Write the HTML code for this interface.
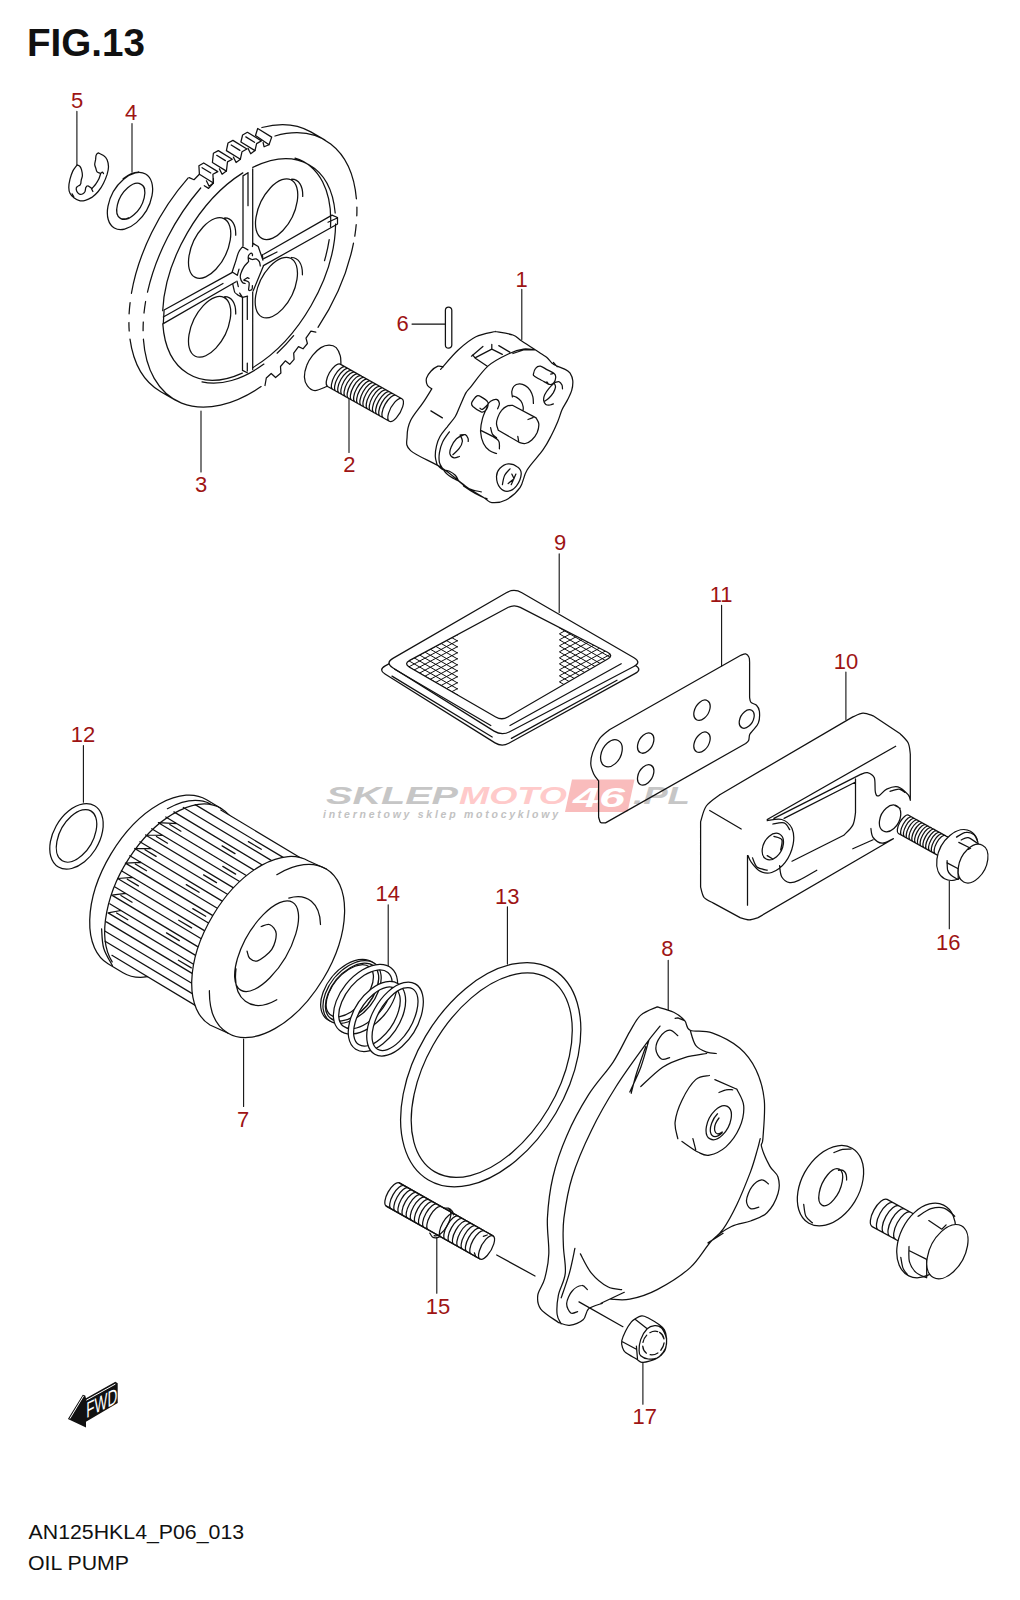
<!DOCTYPE html>
<html><head><meta charset="utf-8"><title>FIG.13 OIL PUMP</title>
<style>
html,body{margin:0;padding:0;background:#fff}
body{width:1020px;height:1600px;overflow:hidden;font-family:"Liberation Sans",sans-serif}
svg{display:block}
.ln path,.ln ellipse,.ln line{fill:none;stroke:#111;stroke-width:1.25;stroke-linecap:round;stroke-linejoin:round}
.ln .w{fill:#fff}
.lab text{font-family:"Liberation Sans",sans-serif;font-size:22px;fill:#9e1414;text-anchor:middle}
</style></head><body>
<svg width="1020" height="1600" viewBox="0 0 1020 1600">
<rect width="1020" height="1600" fill="#fff"/>
<g class="wm" font-family="Liberation Sans, sans-serif" font-weight="bold" font-style="italic">
<text x="326" y="804.3" font-size="23.5" fill="#c6c6c6" textLength="132" lengthAdjust="spacingAndGlyphs">SKLEP</text>
<text x="459" y="804.3" font-size="23.5" fill="#ffcaca" textLength="108" lengthAdjust="spacingAndGlyphs">MOTO</text>
<path d="M572 779.5H634.5L627.5 812H565Z" fill="#f9bcbc"/>
<text x="573" y="806.5" font-size="27" fill="#fff" textLength="52" lengthAdjust="spacingAndGlyphs">46</text>
<text x="633" y="804.3" font-size="23.5" fill="#c6c6c6" textLength="57" lengthAdjust="spacingAndGlyphs">.PL</text>
<text x="323" y="817.8" font-size="10.5" fill="#c2c2c2" textLength="235" lengthAdjust="spacing">internetowy sklep motocyklowy</text>
</g>
<g class="ln">
<path d="M76.9 111.4V165.3M132 123.5V172.2M521.8 289.4V339.4M349 398.5V452.5M201 411V472M559.2 553.9V612.5M721.6 605.3V666M845.9 672V719.6M83.4 745.6V802.2M388.2 904.7V968.5M507.4 906.8V964.1M668.2 960.2V1009.6M949.3 881V928.8M243.6 1039V1106.4M436.8 1237.5V1293.3M642.9 1362.3V1404.3M412 324.1H445.3" style="stroke-width:1.1"/>
<path d="M275 136A150 88 -60 0 1 356.4 198.8M356.9 207.1A150 88 -60 0 1 356.8 215.8M356.2 224.7A150 88 -60 0 1 354.8 236.2M353.5 243.2A150 88 -60 0 1 318 327.3M261.1 386.6A150 88 -60 0 1 143.4 339.2M143.1 330.7A150 88 -60 0 1 143.3 322M144 313A150 88 -60 0 1 145.6 301.5M147.5 292.1A150 88 -60 0 1 200.7 188M160.8 391.7A150 88 -60 0 1 130 339.1M129.2 331A150 88 -60 0 1 128.9 322.5M129.1 313.8A150 88 -60 0 1 130.1 302.6M131.4 293.3A150 88 -60 0 1 188.2 177.9M261.9 127.5A150 88 -60 0 1 310.8 131.9L325 140.1M160.8 391.7L175 399.9"/>
<path d="M315.8 332.1L310.9 331.2L306 338.2L307.4 343.5L303 348.8L298.5 346.6L293.7 353.2L294.1 359.4L289.7 364.3L285.3 360.8L280.5 366.5L280.9 373.1L275.6 377.5L271.2 373.5L266.3 378L265 385.5"/>
<path d="M252.8 167.4A120.8 71.8 -60.2 0 1 335.2 213M335.6 224A120.8 71.8 -60.2 0 1 252.6 367.7M242.3 373.1A120.8 71.8 -60.2 0 1 162.8 323.9M162.7 310.7A120.8 71.8 -60.2 0 1 242.8 172.9M295 158.1A120.8 71.8 -60.2 0 1 330.5 226.9M329.2 239.7A120.8 71.8 -60.2 0 1 324.5 260.7M293.6 335.7A120.8 71.8 -60.2 0 1 277.1 353.2M263.9 364.1A120.8 71.8 -60.2 0 1 202 381.9"/>
<path d="M243 175.9V245.7M248 172.7V205.7M252.7 168.8V244M243 175.9L248 172.7M242.5 297.5V370.4M247.3 296.7V319.4M247.3 363V371M252.7 292V369.6M242.5 370.4L247.3 372.8M263.7 254.3L332 215.1L337.5 217.5V224M263.4 265.6L337.5 224M263.7 258.6L277 252M328 222.2L336.7 218.2M164.1 310L232.4 272.4M163.3 317L223 283.5M163.3 323.6L236 281.8M164.1 310L163.3 323.6"/>
<path d="M290.9 179.8A32.7 17.3 -64 0 1 282.9 230.5A32.7 17.3 -64 0 1 256 217.3A32.7 17.3 -64 0 1 290.9 179.8ZM291.7 179.1A32.7 17.3 -64 0 1 302.7 196.4M290.6 258.2A32.7 17.3 -64 0 1 282.6 308.9A32.7 17.3 -64 0 1 255.7 295.7A32.7 17.3 -64 0 1 290.6 258.2ZM291.4 257.5A32.7 17.3 -64 0 1 302.4 274.8M223.9 218.6A32.7 17.3 -64 0 1 215.9 269.3A32.7 17.3 -64 0 1 189 256.1A32.7 17.3 -64 0 1 223.9 218.6ZM224.7 217.9A32.7 17.3 -64 0 1 235.7 235.2M223.9 297.4A32.7 17.3 -64 0 1 215.9 348.1A32.7 17.3 -64 0 1 189 334.9A32.7 17.3 -64 0 1 223.9 297.4ZM224.7 296.7A32.7 17.3 -64 0 1 235.7 314"/>
<path d="M242.5 246.8L247.9 249.9M242.5 246.8C241.8 247.7 239.8 249.5 238.7 252C237.5 254.4 236.7 258.3 235.6 261.6C234.5 264.9 232.7 270.2 232.2 271.9M232.2 271.9L237.3 275.3L239 269.1M237 281.1L238.3 286.6M232.8 284.2C233 285 233.5 287.7 233.9 289C234.2 290.4 234.2 291.4 234.9 292.5C235.6 293.5 237.1 294.4 238.3 295.2C239.6 296 241.8 296.9 242.5 297.3M239.7 293.1L242.5 297.3L247.6 296.2M252.4 246.5L253.1 243.4L258.2 246.5L263 260.2L262.4 254.7M263.4 266L253.1 291.1M248.6 261.6C247.8 262.5 245.1 265 243.8 267.1C242.5 269.1 241.3 272.1 240.7 273.9C240.2 275.8 240.1 276.6 240.4 278C240.7 279.5 241.7 281.6 242.5 282.5C243.3 283.4 244.7 283.4 245.2 283.5M248.6 261.6C248.6 260.7 247.9 257.8 248.3 256.4C248.6 255.1 250 253.7 250.7 253.3C251.4 252.9 252.1 253.6 252.4 254C252.7 254.4 252.4 255.5 252.4 255.7M249 258.1C249.5 258.4 251.2 259.4 252.4 259.5C253.6 259.6 255 258.5 256.2 258.8C257.3 259.2 258.6 260.4 259.3 261.6C260 262.8 260.1 265.3 260.3 266M243.8 280.1L247.3 277.7L249 278.4M244.5 280.4C245.3 280.8 248.3 281 249 282.5C249.7 284 248.5 288.4 248.6 289.7C248.8 291 249.4 290.5 250 290.4C250.6 290.3 251.7 289.8 252.1 289C252.5 288.2 252.3 286.2 252.4 285.6"/>
<path d="M199.4 174.3L198.9 165.7L203.7 163L217.8 171.6L212.9 174.3L213.4 183Z" class="w"/>
<path d="M202.1 167.7L210.8 173"/>
<path d="M206.4 180.8L209.1 186.2L213.4 183"/>
<path d="M212.4 162.5L213.4 153.3L218.3 150.6L232.3 159.2L227.5 161.9L226.4 171.1Z" class="w"/>
<path d="M216.7 155.3L225.4 160.6"/>
<path d="M219.4 168.9L222.1 174.3L226.4 171.1"/>
<path d="M226.4 150.6L228 143L232.9 140.4L246.9 149L242 151.7L240.4 159.2Z" class="w"/>
<path d="M231.2 145L239.9 150.4"/>
<path d="M233.4 157.1L236.1 162.5L240.4 159.2"/>
<path d="M240.9 142L242.6 135L247.4 132.3L261.4 140.9L256.6 143.6L255 150.6Z" class="w"/>
<path d="M245.8 136.9L254.5 142.3"/>
<path d="M248 148.4L250.7 153.8L255 150.6"/>
<path d="M257.7 128.5L271.7 137.1L269 144.7L255.5 135.5Z" class="w"/>
<path d="M263.1 142.5L264.1 146.8L269 144.7"/>
<path d="M189.2 177.6L194 179.7L199.4 174.3M204.3 185.7L208.6 188.4L213.4 183L213.4 178.6"/>
<path d="M145.6 174A31.1 18.9 -59.9 0 1 136.4 222.6A31.1 18.9 -59.9 0 1 108 206.1A31.1 18.9 -59.9 0 1 145.6 174ZM141.1 184.3A19.9 11.1 -58.8 0 1 133.9 214.8A19.9 11.1 -58.8 0 1 117.4 204.8A19.9 11.1 -58.8 0 1 141.1 184.3ZM123.1 178.8A31.1 18.9 -59.9 0 1 138.6 172M139.8 183.8A19.9 11.1 -58.8 0 1 144.7 188.6M128.6 217.7A19.9 11.1 -58.8 0 1 121.9 218.8"/>
<path d="M77.1 165C76.4 166 74.1 168.5 72.9 170.9C71.8 173.2 70.7 176.4 70 179.1C69.3 181.9 68.8 185 68.8 187.4C68.8 189.7 69.2 191.6 70 193.2C70.8 194.9 72 196.1 73.5 197.4C75.1 198.6 77.5 200.1 79.4 200.6C81.4 201.1 83.2 200.8 85.3 200.3C87.4 199.8 89.6 198.8 91.8 197.4C93.9 195.9 96.3 193.8 98.2 191.5C100.2 189.1 102.1 186.1 103.5 183.2C105 180.4 106.2 177.2 107.1 174.4C107.9 171.7 108.5 169.2 108.5 166.8C108.5 164.3 107.9 161.6 107.1 159.7C106.2 157.8 105 156.7 103.5 155.6C102.1 154.5 99.1 153.4 98.2 152.9M98.2 152.9C97.9 153.3 96.6 153.9 96.2 155C95.7 156.1 95.8 158.1 95.6 159.7C95.3 161.3 94.7 162.9 94.7 164.4C94.8 165.9 95.5 167.3 95.9 168.5C96.3 169.8 96.3 170.9 97.1 171.8C97.8 172.6 100 173.2 100.6 173.5M100.6 173.5C100.9 173.3 101.9 172.1 102.4 172.1C102.8 172.1 103.3 173.3 103.5 173.5M100.6 173.8C100.3 174.7 99.6 177.5 98.8 179.1C98 180.8 97 182.3 95.9 183.8C94.8 185.4 92.7 187.7 92.1 188.5M91.5 188.8L92.9 191.5M92.1 188.5C91.7 188.3 90.7 187.5 90 187.1C89.3 186.6 88.3 185.8 87.6 185.9C87 185.9 86.3 186.4 85.9 187.4C85.4 188.3 85.5 190.4 85 191.5C84.5 192.5 83.8 193.3 82.9 193.8C82.1 194.3 80.9 194.6 80 194.4C79.1 194.2 78.3 193.5 77.6 192.6C77 191.8 76.3 190.1 76.2 189.1C76.1 188.1 76.4 187.5 77.1 186.8C77.7 186.1 79.4 185.6 80 185C80.6 184.4 80.7 183.5 80.9 183.2M80.9 183.2C80.9 182.7 80.9 181.6 81.2 180.3C81.4 179 82.3 177.4 82.4 175.6C82.4 173.8 81.9 171.2 81.5 169.7C81.1 168.2 80.7 167.3 80 166.5C79.3 165.7 77.5 165.2 77.1 165M72.1 193.8L73.8 196.8"/>
<path d="M340.9 363.5C340.8 362.3 341.1 358.5 340.3 355.9C339.5 353.2 338 349.5 336.2 347.6C334.3 345.8 331.7 345.1 329.1 345.1C326.6 345.1 323.6 345.9 320.9 347.6C318.1 349.4 315 352.4 312.6 355.3C310.3 358.2 308.1 361.7 306.8 365.3C305.4 368.9 304.3 373.6 304.4 377.1C304.5 380.5 305.6 383.6 307.4 385.9C309.1 388.1 311.8 390.5 315 390.6C318.2 390.7 324.8 387.2 326.8 386.5"/>
<path d="M340.2 364.1L401.9 398.8M327.6 386.5L389.3 421.2M327.6 386.5A12.9 5.2 119.4 0 1 329.4 372.8A12.9 5.2 119.4 0 1 340.2 364.1M332.9 389.5A12.9 5.2 119.4 0 1 334.6 375.7A12.9 5.2 119.4 0 1 345.5 367M336 391.3A12.9 5.2 119.4 0 1 337.8 377.5A12.9 5.2 119.4 0 1 348.7 368.8M339.2 393.1A12.9 5.2 119.4 0 1 341 379.3A12.9 5.2 119.4 0 1 351.8 370.6M342.3 394.8A12.9 5.2 119.4 0 1 344.1 381A12.9 5.2 119.4 0 1 355 372.4M345.5 396.6A12.9 5.2 119.4 0 1 347.3 382.8A12.9 5.2 119.4 0 1 358.1 374.1M348.6 398.4A12.9 5.2 119.4 0 1 350.4 384.6A12.9 5.2 119.4 0 1 361.3 375.9M351.8 400.2A12.9 5.2 119.4 0 1 353.6 386.4A12.9 5.2 119.4 0 1 364.4 377.7M355 401.9A12.9 5.2 119.4 0 1 356.8 388.2A12.9 5.2 119.4 0 1 367.6 379.5M358.1 403.7A12.9 5.2 119.4 0 1 359.9 389.9A12.9 5.2 119.4 0 1 370.8 381.2M361.3 405.5A12.9 5.2 119.4 0 1 363.1 391.7A12.9 5.2 119.4 0 1 373.9 383M364.4 407.3A12.9 5.2 119.4 0 1 366.2 393.5A12.9 5.2 119.4 0 1 377.1 384.8M367.6 409A12.9 5.2 119.4 0 1 369.4 395.3A12.9 5.2 119.4 0 1 380.2 386.6M370.7 410.8A12.9 5.2 119.4 0 1 372.5 397A12.9 5.2 119.4 0 1 383.4 388.3M373.9 412.6A12.9 5.2 119.4 0 1 375.7 398.8A12.9 5.2 119.4 0 1 386.6 390.1M377.1 414.4A12.9 5.2 119.4 0 1 378.9 400.6A12.9 5.2 119.4 0 1 389.7 391.9M380.2 416.2A12.9 5.2 119.4 0 1 382 402.4A12.9 5.2 119.4 0 1 392.9 393.7M383.4 417.9A12.9 5.2 119.4 0 1 385.2 404.1A12.9 5.2 119.4 0 1 396 395.4M389.3 421.2A12.9 5.2 119.4 0 1 394.8 402.2A12.9 5.2 119.4 0 1 402.7 406.6A12.9 5.2 119.4 0 1 389.3 421.2Z"/>
<path d="M445.4 310.2a3.2 3.2 0 0 1 6.4 0V345a3.2 3.2 0 0 1 -6.4 0Z"/>
<path d="M495.3 331.5C498.2 332.1 508.5 333.4 512.9 335C517.4 336.6 517.5 338.3 522.1 341.3C526.7 344.4 536.3 350.5 540.4 353.2C544.5 355.9 544.9 355.8 546.9 357.5C548.9 359.2 550.6 362 552.3 363.4C554 364.9 555 365.1 557.1 366.1C559.3 367.1 563.1 368.2 565.2 369.4C567.4 370.5 568.8 371.3 570.1 373.1C571.3 375 572.5 377.8 572.8 380.7C573 383.6 572.6 387.2 571.7 390.4C570.8 393.6 569 396.9 567.4 400.1C565.8 403.4 563.6 406.2 562 409.8C560.4 413.4 559.5 417.4 557.7 421.7C555.9 426 553.6 431 551.2 435.7C548.8 440.4 547.1 444 543.1 449.7C539.1 455.5 530.9 463.7 527.1 470C523.2 476.3 523.5 482.6 520 487.6C516.5 492.6 510.6 497.5 505.9 500C501.2 502.5 495.3 502.9 491.8 502.6C488.2 502.3 489.1 501 484.7 498.2C480.3 495.4 472.3 490.9 465.3 485.9C458.2 480.9 451.5 474.1 442.4 468.2C433.2 462.3 416.5 455.9 410.6 450.6C404.7 445.3 407.1 441.5 407.1 436.5C407.1 431.5 407.9 426.2 410.6 420.6C413.2 415 419.4 408.2 422.9 402.9C426.5 397.6 430.3 391.2 431.8 388.8M431.8 388.8C431 388.2 428.2 387.1 427.4 385.3C426.5 383.5 425.9 380.6 426.5 378.2C427.1 375.9 429 373.2 430.9 371.2C432.8 369.2 435.9 367 437.9 366.2C440 365.5 442.4 366.7 443.2 366.8M440.6 369.4C443.5 366.2 452.3 355.4 458.2 350C464.1 344.6 469.7 339.9 475.9 336.8C482.1 333.7 492.1 332.4 495.3 331.5M535.9 350C533.8 349.9 527.9 348.5 523.5 349.1C519.1 349.7 515.3 350.7 509.4 353.5C503.5 356.3 494.7 360.3 488.2 365.9C481.8 371.5 474.3 382.5 470.6 387.1C466.9 391.6 467.6 389.8 465.9 392.9C464.1 396.1 461.8 402 460 405.9C458.2 409.8 457.5 412.9 455.3 416.5C453.1 420 449.6 423.7 447.1 427.1C444.5 430.4 441.8 433.3 440 436.5C438.2 439.6 437.3 442.5 436.5 445.9C435.7 449.2 435.2 453.3 435.3 456.5C435.4 459.6 436.8 463.3 437.1 464.7M449.4 431.8C448.2 433.5 444 438.8 442.4 442.4C440.7 445.9 439.9 449.6 439.4 452.9C438.9 456.3 438.9 459.8 439.4 462.4C439.9 464.9 441.9 467.3 442.4 468.2M437.1 464.7C437.9 465.5 440.3 468.3 442.4 469.4C444.4 470.5 447.3 470.2 449.4 471.2C451.6 472.2 453.7 473.6 455.3 475.3C456.9 477 458.2 480.2 458.8 481.2M442.4 468.2C443.1 469.2 445.1 472.4 447.1 474.1C449 475.9 452.2 477.6 454.1 478.8C456.1 480 456.9 479.8 458.8 481.2C460.8 482.5 463.5 485.6 465.9 487.1C468.2 488.5 470.4 489.2 472.9 490C475.5 490.8 479.8 491.5 481.2 491.8M463.5 485.9C464.7 486.7 467.6 488.8 470.6 490.6C473.5 492.4 478.4 495.1 481.2 496.5C483.9 497.8 486.1 498.4 487.1 498.8M553.4 362.4L557.1 366.7M512.9 353.5L523.5 350L534.1 349.6M471.5 356.2L482.9 346.5M472.7 354.9L475 357.9L487.3 366.2M475 357.9L491.8 349.1L502.3 354.4M491.8 344.4L491.8 349.1M498.8 345.6L509.8 352.1M430.9 410.9L442.4 417.9M533.4 374.2C533.6 372.9 534.4 369.6 535.6 368.3C536.7 366.9 538.4 365.9 540.4 366.1C542.4 366.4 545.1 368.7 547.4 369.9C549.8 371.2 553 372.4 554.4 373.7C555.8 374.9 555.8 376 555.7 377.5C555.6 379 554.9 381.5 553.9 382.6C552.9 383.8 552 384.9 549.9 384.5C547.8 384.1 544.1 381.5 541.5 380.2C538.9 378.8 535.8 377.2 534.5 376.2C533.1 375.2 533.2 375.5 533.4 374.2ZM550.7 374.2L552.8 373.7M546.9 381.8L548 383.4M471.8 402.4C472.5 400.6 475.3 396.7 477.1 395.9C478.8 395.1 480.6 396.7 482.4 397.6C484.1 398.6 486.8 400.2 487.6 401.8C488.5 403.3 488.1 405.5 487.6 407.1C487.2 408.6 485.8 410.4 484.7 411.2C483.6 412 483.1 412.5 481.2 411.8C479.2 411 474.5 408 472.9 406.5C471.4 404.9 471.1 404.1 471.8 402.4ZM480 408.2C480.4 408.4 481.2 409.9 482.4 409.4C483.5 408.9 486.3 406 487.1 405.3M554.4 382.9C553.5 383.8 550.7 386.3 549 388.3C547.4 390.2 545.6 392.7 544.7 394.7C543.8 396.7 543.5 398.5 543.6 400.1C543.8 401.7 544.7 403.6 545.8 404.4C546.9 405.2 548.9 405.1 550.1 405C551.4 404.9 552.8 404.1 553.4 403.9M554.4 383.4C554.6 384 555.7 385.6 555.5 387.2C555.3 388.7 554.4 390.8 553.4 392.6C552.3 394.4 550.5 396.5 549 398C547.6 399.4 545.4 400.7 544.7 401.2M555.5 382.3C556.1 382.2 558.2 381.3 559.3 381.8C560.4 382.2 561.4 383.8 562 385C562.5 386.2 562.4 388.2 562.5 388.8M464.1 434.7C462.8 435.4 458.6 436.8 456.5 438.8C454.3 440.9 452.3 444.5 451.2 447.1C450.1 449.6 449.5 452.3 450 454.1C450.5 455.9 452.5 457.5 454.1 457.9C455.7 458.3 458.5 456.7 459.4 456.5M460.6 435.9C460.9 436.8 462.5 439.1 462.4 441.2C462.2 443.2 461 446 459.4 448.2C457.8 450.5 454 453.6 452.9 454.7M460 435.1C460.9 435 464 434.2 465.3 434.7C466.6 435.2 467.5 437.1 468 438.2C468.5 439.4 468.2 440.9 468.2 441.4M512.4 405.3C511.5 405.4 508.8 405.2 507 406.1C505.2 406.9 503.1 408.5 501.6 410.4C500 412.3 498.6 415.1 497.8 417.4C497 419.6 496.4 421.7 496.5 423.9C496.6 426 498 429.2 498.3 430.3M512.4 405.3L536.1 417.9M498.3 430.3L519.9 442.7M536.1 417.9C536.5 418.9 538.6 421.4 538.8 423.9C539 426.3 538.3 429.8 537.2 432.5C536 435.2 533.8 438.2 531.8 440C529.8 441.9 527.3 443 525.3 443.5C523.3 443.9 520.8 442.9 519.9 442.7M528 419.5L532.9 417.6M517.8 436.3L518.8 442.2M512.4 396.9C512.3 396 511.6 393.3 511.8 391.5C512.1 389.7 512.7 387.4 514 386.1C515.2 384.8 517.5 384 519.4 383.9C521.3 383.8 523.5 384.5 525.3 385.6C527.1 386.6 528.9 388.5 530.2 390.4C531.4 392.3 532.3 394.7 532.9 396.9C533.4 399 533.3 402.3 533.4 403.4M512.4 395.8C513.1 396.1 515.2 396.5 516.7 397.4C518.1 398.3 519.9 399.7 521 401.2C522.1 402.7 522.8 405.1 523.1 406.6C523.5 408.1 523.1 409.7 523.1 410.4M487.1 405.3C487.6 404.6 489 402.2 490.6 401.2C492.2 400.2 495 399 496.5 399.4C497.9 399.8 499.2 402 499.4 403.5C499.6 405.1 497.9 407.9 497.6 408.8M487.1 407.1C486.3 409 483.4 414.7 482.4 418.8C481.3 422.9 480.4 427.6 480.6 431.8C480.8 435.9 482.1 440.4 483.5 443.5C485 446.7 487.3 448.9 489.4 450.6C491.6 452.3 495.3 453 496.5 453.5M481.2 430.6C483.1 431.6 490 434.7 492.9 436.5C495.9 438.2 497.7 439.1 498.8 441.2C499.9 443.2 499.3 447.5 499.4 448.8M490.6 427.6C490.9 428.7 491.4 432.5 492.4 434.1C493.3 435.8 495.8 437.1 496.5 437.6M496.5 476.5C496.5 473.2 498 470.4 500 468.2C502 466.1 505.3 464 508.2 463.8C511.2 463.6 515.5 465.3 517.6 467.1C519.8 468.8 521.4 471 521.2 474.1C521 477.3 518.6 483 516.5 485.9C514.3 488.7 511 490.9 508.2 491.2C505.5 491.5 502 490.1 500 487.6C498 485.2 496.5 479.7 496.5 476.5ZM510 468.8C509.1 469.9 506 472.6 504.7 475.3C503.4 477.9 502.7 483.1 502.4 484.7M515.9 474.1L511.2 484.7M511.8 474.1L514.1 478.8L508.2 483.5"/>
<path d="M507.1 599Q514.1 595.1 521 599.1L635.4 665.5Q642.3 669.5 635.3 673.4L508.8 743.3Q501.8 747.2 495 742.9L385 674Q378.2 669.8 385.2 665.9Z" class="w"/>
<path d="M506.3 592.7Q514.1 588.2 521.9 592.8L634 657.8Q641.8 662.3 633.8 666.5L509.7 731.7Q501.8 735.9 494.1 731.1L392.7 667.7Q385.1 662.9 392.9 658.4Z" class="w"/>
<path d="M394.7 669.2L490.8 725.5M510 725.5L621.2 663.7M392 676.1L492.2 737M511.4 738.4L617 680.2"/>
<clipPath id="msh"><path d="M380 590H457.8V740H380ZM559.4 590H650V740H559.4Z"/></clipPath>
<clipPath id="msh2"><path d="M507.9 607.5Q514.1 604.2 520.3 607.4L607.5 652.3Q613.8 655.5 607.7 659L507.8 717Q501.8 720.5 495.7 717L409.5 667.2Q403.5 663.7 409.7 660.4Z"/></clipPath>
<g clip-path="url(#msh)"><g clip-path="url(#msh2)"><path d="M380 436.4L650 291M380 410.1L650 566.3M380 442.4L650 297M380 416.1L650 572.3M380 448.4L650 303M380 422.1L650 578.3M380 454.4L650 309M380 428.1L650 584.3M380 460.4L650 315M380 434.1L650 590.3M380 466.4L650 321M380 440.1L650 596.3M380 472.4L650 327M380 446.1L650 602.3M380 478.4L650 333M380 452.1L650 608.3M380 484.4L650 339M380 458.1L650 614.3M380 490.4L650 345M380 464.1L650 620.3M380 496.4L650 351M380 470.1L650 626.3M380 502.4L650 357M380 476.1L650 632.3M380 508.4L650 363M380 482.1L650 638.3M380 514.4L650 369M380 488.1L650 644.3M380 520.4L650 375M380 494.1L650 650.3M380 526.4L650 381M380 500.1L650 656.3M380 532.4L650 387M380 506.1L650 662.3M380 538.4L650 393M380 512.1L650 668.3M380 544.4L650 399M380 518.1L650 674.3M380 550.4L650 405M380 524.1L650 680.3M380 556.4L650 411M380 530.1L650 686.3M380 562.4L650 417M380 536.1L650 692.3M380 568.4L650 423M380 542.1L650 698.3M380 574.4L650 429M380 548.1L650 704.3M380 580.4L650 435M380 554.1L650 710.3M380 586.4L650 441M380 560.1L650 716.3M380 592.4L650 447M380 566.1L650 722.3M380 598.4L650 453M380 572.1L650 728.3M380 604.4L650 459M380 578.1L650 734.3M380 610.4L650 465M380 584.1L650 740.3M380 616.4L650 471M380 590.1L650 746.3M380 622.4L650 477M380 596.1L650 752.3M380 628.4L650 483M380 602.1L650 758.3M380 634.4L650 489M380 608.1L650 764.3M380 640.4L650 495M380 614.1L650 770.3M380 646.4L650 501M380 620.1L650 776.3M380 652.4L650 507M380 626.1L650 782.3M380 658.4L650 513M380 632.1L650 788.3M380 664.4L650 519M380 638.1L650 794.3M380 670.4L650 525M380 644.1L650 800.3M380 676.4L650 531M380 650.1L650 806.3M380 682.4L650 537M380 656.1L650 812.3M380 688.4L650 543M380 662.1L650 818.3M380 694.4L650 549M380 668.1L650 824.3M380 700.4L650 555M380 674.1L650 830.3M380 706.4L650 561M380 680.1L650 836.3M380 712.4L650 567M380 686.1L650 842.3M380 718.4L650 573M380 692.1L650 848.3M380 724.4L650 579M380 698.1L650 854.3M380 730.4L650 585M380 704.1L650 860.3M380 736.4L650 591M380 710.1L650 866.3M380 742.4L650 597M380 716.1L650 872.3M380 748.4L650 603M380 722.1L650 878.3M380 754.4L650 609M380 728.1L650 884.3M380 760.4L650 615M380 734.1L650 890.3M380 766.4L650 621M380 740.1L650 896.3M380 772.4L650 627M380 746.1L650 902.3M380 778.4L650 633M380 752.1L650 908.3M380 784.4L650 639M380 758.1L650 914.3M380 790.4L650 645M380 764.1L650 920.3M380 796.4L650 651M380 770.1L650 926.3M380 802.4L650 657M380 776.1L650 932.3M380 808.4L650 663M380 782.1L650 938.3M380 814.4L650 669M380 788.1L650 944.3M380 820.4L650 675M380 794.1L650 950.3M380 826.4L650 681M380 800.1L650 956.3M380 832.4L650 687M380 806.1L650 962.3M380 838.4L650 693M380 812.1L650 968.3M380 844.4L650 699M380 818.1L650 974.3M380 850.4L650 705M380 824.1L650 980.3M380 856.4L650 711M380 830.1L650 986.3M380 862.4L650 717M380 836.1L650 992.3M380 868.4L650 723M380 842.1L650 998.3M380 874.4L650 729M380 848.1L650 1004.3M380 880.4L650 735M380 854.1L650 1010.3M380 886.4L650 741M380 860.1L650 1016.3M380 892.4L650 747M380 866.1L650 1022.3M380 898.4L650 753M380 872.1L650 1028.3M380 904.4L650 759M380 878.1L650 1034.3M380 910.4L650 765M380 884.1L650 1040.3M380 916.4L650 771M380 890.1L650 1046.3M380 922.4L650 777M380 896.1L650 1052.3M380 928.4L650 783M380 902.1L650 1058.3M380 934.4L650 789M380 908.1L650 1064.3M380 940.4L650 795M380 914.1L650 1070.3M380 946.4L650 801M380 920.1L650 1076.3M380 952.4L650 807M380 926.1L650 1082.3M380 958.4L650 813M380 932.1L650 1088.3M380 964.4L650 819M380 938.1L650 1094.3M380 970.4L650 825M380 944.1L650 1100.3M380 976.4L650 831M380 950.1L650 1106.3M380 982.4L650 837M380 956.1L650 1112.3M380 988.4L650 843M380 962.1L650 1118.3M380 994.4L650 849M380 968.1L650 1124.3M380 1000.4L650 855M380 974.1L650 1130.3M380 1006.4L650 861M380 980.1L650 1136.3M380 1012.4L650 867M380 986.1L650 1142.3M380 1018.4L650 873M380 992.1L650 1148.3M380 1024.4L650 879M380 998.1L650 1154.3M380 1030.4L650 885M380 1004.1L650 1160.3" style="stroke-width:1"/></g></g>
<path d="M507.9 607.5Q514.1 604.2 520.3 607.4L607.5 652.3Q613.8 655.5 607.7 659L507.8 717Q501.8 720.5 495.7 717L409.5 667.2Q403.5 663.7 409.7 660.4Z"/>
<path d="M609.4 729.8L740.8 655.3C741.6 655.1 744.3 653.6 745.7 653.9C747.1 654.2 748.4 655.9 749 657.3C749.7 658.6 749.5 661.3 749.6 662.2L749.6 697.5C749.8 698.3 749.8 701 751 702.4C752.1 703.7 755.1 703.8 756.5 705.3C757.9 706.8 759.1 708.2 759.4 711.2C759.7 714.1 759.6 719.7 758.4 722.9C757.3 726.2 754 728.8 752.5 730.8C751.1 732.7 750.3 733.1 749.6 734.7C749 736.3 749.3 739.1 748.6 740.6C748 742.1 746.2 743 745.7 743.5L605.5 822.9C604.7 822.8 601.7 823.3 600.6 822.4C599.4 821.4 599 817.9 598.6 817.1L598.6 780.8C597.8 779.6 595 776.7 593.7 773.9C592.4 771.1 590.9 767.7 590.8 764.1C590.6 760.5 591.3 756.6 592.7 752.4C594.2 748.1 596.8 742.4 599.6 738.6C602.4 734.9 607.8 731.3 609.4 729.8Z"/>
<path d="M618.2 740.5A14.5 9.6 -62 0 1 615.3 763.6A14.5 9.6 -62 0 1 600.7 755.8A14.5 9.6 -62 0 1 618.2 740.5ZM651.2 733.5A11 7 -60 0 1 648.2 750.8A11 7 -60 0 1 637.7 744.7A11 7 -60 0 1 651.2 733.5ZM651.2 765.4A11 7 -60 0 1 648.2 782.7A11 7 -60 0 1 637.7 776.6A11 7 -60 0 1 651.2 765.4ZM707.5 700.7A11 7 -60 0 1 704.5 718A11 7 -60 0 1 694 711.9A11 7 -60 0 1 707.5 700.7ZM707.5 732.7A11 7 -60 0 1 704.5 750A11 7 -60 0 1 694 743.9A11 7 -60 0 1 707.5 732.7ZM751.7 710.3A10 6.4 -60 0 1 749 726.1A10 6.4 -60 0 1 739.4 720.6A10 6.4 -60 0 1 751.7 710.3Z"/>
<path d="M719.8 794.7L852.8 716.9C854.5 716.3 859.6 713.3 863 713.1C866.4 712.9 871.4 715.3 873.1 715.8L900.2 733.8C901.5 735.3 906.4 739.5 908.1 742.8C909.8 746.2 910 752.2 910.3 754.1L910.3 800.3M719.8 794.7C717.5 796.6 709.5 801.5 706.3 806C703.1 810.5 701.6 819.1 700.6 821.8L700.6 887.1C701.2 888.8 702 894.7 704 897.3C706.1 899.9 711.5 902 713 902.9L740.1 917.6C741.6 918 746.1 919.8 749.1 919.8C752.1 919.8 756.6 918 758.1 917.6L893.4 838.7M709.7 810.5L741.2 829M767.2 819.5L895.7 746.2M773.9 818.4L860.7 774.4C861.9 774.1 865.2 772 867.5 772.6C869.7 773.2 872.9 774.5 874.3 777.8C875.6 781.1 874.6 789.4 875.4 792.4C876.1 795.5 876.9 796.4 878.8 795.8C880.6 795.3 883.5 790.6 886.7 789.1C889.9 787.6 894.4 785.9 897.9 786.8C901.5 787.7 906 792.4 908.1 794.7C910.1 797 910 799.4 910.3 800.3M890 791.3C891.5 790.9 896.6 788.9 899.1 789.1C901.5 789.3 903.8 791.9 904.7 792.4M784.1 818.4L855.1 782.3M855.5 778.9L855.5 812.7C855.1 814.8 854.8 821.4 852.8 825.1C850.9 828.9 845.3 833.6 843.8 835.3L792 861.2M767.2 820.6C769.6 820.4 777.7 818.2 781.8 819.5C785.9 820.8 790.1 824.4 792 828.5C793.8 832.7 794.2 838.7 793.1 844.3C792 849.9 788.8 857.6 785.2 862.3C781.6 867 775.8 871 771.7 872.5C767.5 874 763.8 873.1 760.4 871.4C757 869.7 753.4 865 751.4 862.3C749.3 859.7 748.6 856.7 748 855.6M772.8 824C774.7 823.8 781.2 821.9 784.1 822.9C786.9 823.8 788.8 828.5 789.7 829.7M752.5 857.8C753.2 859.3 754.6 864.8 757 866.9C759.4 868.9 765.5 869.7 767.2 870.2M779.5 834A14.2 9.4 -62 0 1 776.6 856.7A14.2 9.4 -62 0 1 762.3 849A14.2 9.4 -62 0 1 779.5 834ZM773.9 836.4C775.2 837 780.7 837.5 781.8 839.8C782.9 842.1 780.9 848.3 780.7 849.9M767.2 855.6L772.8 859M747.5 855.6L747.5 905.2M779.6 865.7C779.9 867.6 780.1 874.2 781.8 877C783.5 879.8 786.9 882.1 789.7 882.6C792.5 883.2 794.2 882.5 798.7 880.4C803.2 878.3 813.8 871.9 816.8 870.2M896.7 805.8A14.2 9.4 -62 0 1 893.9 828.5A14.2 9.4 -62 0 1 879.5 820.8A14.2 9.4 -62 0 1 896.7 805.8ZM893.4 804.8L900.2 808.2M870.9 828.5C871.2 830 871.2 835.1 873.1 837.5C875 840 878.8 843 882.1 843.2C885.5 843.4 891.5 839.4 893.4 838.7M852.8 848.8L873.1 839.8"/>
<path d="M908.6 815.2L948 837.1M898.4 833.5L937.8 855.4M898.4 833.5A10.5 4.2 119 0 1 899.9 822.3A10.5 4.2 119 0 1 908.6 815.2M901.8 835.4A10.5 4.2 119 0 1 903.2 824.2A10.5 4.2 119 0 1 912 817M904.6 836.9A10.5 4.2 119 0 1 906 825.7A10.5 4.2 119 0 1 914.8 818.6M907.4 838.5A10.5 4.2 119 0 1 908.8 827.3A10.5 4.2 119 0 1 917.6 820.1M910.2 840A10.5 4.2 119 0 1 911.6 828.8A10.5 4.2 119 0 1 920.4 821.7M913 841.6A10.5 4.2 119 0 1 914.4 830.4A10.5 4.2 119 0 1 923.1 823.2M915.7 843.1A10.5 4.2 119 0 1 917.2 831.9A10.5 4.2 119 0 1 925.9 824.8M918.5 844.7A10.5 4.2 119 0 1 920 833.5A10.5 4.2 119 0 1 928.7 826.3M921.3 846.2A10.5 4.2 119 0 1 922.7 835A10.5 4.2 119 0 1 931.5 827.9M924.1 847.8A10.5 4.2 119 0 1 925.5 836.6A10.5 4.2 119 0 1 934.3 829.4M926.9 849.3A10.5 4.2 119 0 1 928.3 838.1A10.5 4.2 119 0 1 937.1 831M929.7 850.9A10.5 4.2 119 0 1 931.1 839.7A10.5 4.2 119 0 1 939.9 832.5M932.5 852.4A10.5 4.2 119 0 1 933.9 841.2A10.5 4.2 119 0 1 942.7 834.1M935.3 854A10.5 4.2 119 0 1 936.7 842.8A10.5 4.2 119 0 1 945.5 835.6"/>
<path d="M970.5 831.2A27.1 18.6 -61.4 0 1 965.2 874.6A27.1 18.6 -61.4 0 1 936.9 859.2A27.1 18.6 -61.4 0 1 970.5 831.2Z" class="w"/>
<path d="M956.5 837.1C958 836.3 962.9 832.7 965.9 832.4C968.8 832 972.2 833.1 974.1 834.7C976.1 836.3 977.1 840.6 977.6 841.8M947.1 860.6C947.2 862.2 947.1 867.6 947.6 870C948.2 872.4 948.9 873.1 950.6 874.7C952.3 876.3 956.5 878.6 957.6 879.4"/>
<path d="M961.2 840C962.4 839.6 965.3 836.9 968.2 837.6C971.2 838.4 977.1 843.2 978.8 844.4M958.8 842.4L970.6 848.2L967.1 851.8M947.1 862.9L958.2 868.8L958.2 879.4"/>
<path d="M982.4 845.2A20.6 13 -63 0 1 978.4 877.9A20.6 13 -63 0 1 958.3 867.7A20.6 13 -63 0 1 982.4 845.2Z" class="w"/>
<path d="M970.6 848.2L968.2 849.4"/>
<path d="M94.6 805.8A35.6 22.9 -59.4 0 1 84.5 861.8A35.6 22.9 -59.4 0 1 50.4 841.6A35.6 22.9 -59.4 0 1 94.6 805.8ZM90.8 810.9A28.8 16.6 -60.2 0 1 81.8 855.5A28.8 16.6 -60.2 0 1 56.9 841.3A28.8 16.6 -60.2 0 1 90.8 810.9Z"/>
<path d="M108 963.7A95.7 54 -59 0 1 111 853.9A95.7 54 -59 0 1 206.6 799.7L221.6 808.7A95.7 54 -59 0 1 218.6 918.5A95.7 54 -59 0 1 123 972.7Z" class="w"/>
<path d="M112.7 955.8L214.8 1017.1L307.8 862.2L220.8 810A90.3 51 -59 0 0 130.6 861.1Z" style="fill:#fff;stroke:none"/>
<path d="M112.2 961.9A95.7 54 -59 0 1 221.6 808.7M101.6 928.8C101.9 932.1 101.9 942.1 103.7 948.2C105.5 954.4 110.9 962.6 112.4 965.5M167.4 808.7A94.3 53.2 -59 0 1 210.3 803.7"/>
<path d="M111.9 955.3L214.8 1017.1M105.1 941.2L200.6 998.6M105.2 931.2L198 987M106.4 921.9L197.5 976.6M108.1 912.9L198.1 967M109.7 903.8L199.7 957.9M111.8 895.1L201.8 949.1M114.6 886.7L204.6 940.7M117.7 878.5L207.7 932.6M121.4 870.7L211.4 924.8M125.4 863.1L215.4 917.1M129.8 855.7L219.8 909.8M134.7 848.5L224.7 902.6M139.9 841.7L229.9 895.7M145.6 835L235.6 889.1M151.7 828.7L241.7 882.8M158.4 822.7L248.4 876.7M165.8 817L255.8 871.1M173.9 811.9L263.9 866M183.3 807.5L273.3 861.6M195.2 804.6L284.8 858.4M220.8 810L307.8 862.2M178.4 960.2L191.3 967.9M108.1 912.9L120.8 910.5M116.6 913L127.8 919.7M166.5 932.9L179.3 940.6M111.8 895.1L125.7 893.4M120.9 895.5L132.1 902.2M178.7 920.2L191.6 927.9M117.7 878.5L132.5 877.4M127.3 879.2L138.4 885.9M192.8 908.6L205.7 916.3M125.4 863.1L141 862.4M135.3 864L146.5 870.7M186.3 884.6L199.1 892.3M134.7 848.5L151 848.4M145 849.7L156.1 856.4M203.6 874.9L216.5 882.6M145.6 835L162.9 835.4M156.4 836.5L167.5 843.2M222.8 866.4L235.6 874.1M158.4 822.7L176.9 823.7M169.8 824.5L180.9 831.2M222.1 845.9L235 853.6M248.4 841.6L261.3 849.3"/>
<path d="M210 1025A95.7 54 -59 0 1 213 915.2A95.7 54 -59 0 1 308.6 861L326.3 869A95.7 54 -59 0 1 323.3 978.8A95.7 54 -59 0 1 227.7 1033Z" class="w"/>
<path d="M276.8 874.7A95.7 54 -59 0 1 326.3 869M227.7 1033A95.7 54 -59 0 1 209.4 990.7M292.5 902.3A51 21.8 -59.5 0 1 269.9 977.8A51 21.8 -59.5 0 1 237.4 958.6A51 21.8 -59.5 0 1 292.5 902.3ZM288.8 898.1A60 34 -59 0 1 320.5 924.5M276.8 999.7A60 34 -59 0 1 236 968.9M261.2 926.5C262.6 926.2 267.5 923.5 270 924.7C272.5 925.9 275.9 929.4 276.2 933.5C276.5 937.6 274.8 944.8 271.8 949.4C268.7 954 261.3 959.4 257.6 960.9C254 962.3 251.5 959.8 249.7 958.2C247.9 956.6 247.5 952.3 247.1 951.2"/>
<path d="M553 969.4A122.3 75.6 -59.4 0 1 515.9 1160.7A122.3 75.6 -59.4 0 1 403.2 1094A122.3 75.6 -59.4 0 1 553 969.4ZM549 978.7A112.2 65.8 -59.3 0 1 512.1 1152.5A112.2 65.8 -59.3 0 1 414.1 1094.3A112.2 65.8 -59.3 0 1 549 978.7Z"/>
<path d="M373.2 962.8A36.5 22.5 -50 0 1 353 1017.2A36.5 22.5 -50 0 1 323.1 992.2A36.5 22.5 -50 0 1 373.2 962.8ZM369.6 967.1A30.9 16.9 -50 0 1 351 1012A30.9 16.9 -50 0 1 328.6 993.2A30.9 16.9 -50 0 1 369.6 967.1Z" style="fill:#fff;fill-rule:evenodd"/>
<path d="M375.5 964A36.5 22.5 -50 0 1 355.3 1018.5A36.5 22.5 -50 0 1 325.4 993.5A36.5 22.5 -50 0 1 375.5 964ZM373.9 966A34 20 -50 0 1 354.4 1016.2A34 20 -50 0 1 327.9 993.9A34 20 -50 0 1 373.9 966Z" style="fill:#fff;fill-rule:evenodd"/>
<path d="M391.5 968.2A40.5 24.5 -50 0 1 368.7 1028.4A40.5 24.5 -50 0 1 336.2 1001.1A40.5 24.5 -50 0 1 391.5 968.2ZM387.9 972.5A34.9 18.9 -50 0 1 366.8 1023.2A34.9 18.9 -50 0 1 341.7 1002.1A34.9 18.9 -50 0 1 387.9 972.5Z" style="fill:#fff;fill-rule:evenodd"/>
<path d="M398.2 983.8A39 23 -57 0 1 383 1043.7A39 23 -57 0 1 349.6 1022A39 23 -57 0 1 398.2 983.8ZM395.1 988.5A33.4 17.4 -57 0 1 380.5 1038.7A33.4 17.4 -57 0 1 355.2 1022.3A33.4 17.4 -57 0 1 395.1 988.5Z" style="fill:#fff;fill-rule:evenodd"/>
<path d="M415.3 983.9A40.6 22.8 -60 0 1 402 1046.5A40.6 22.8 -60 0 1 367.8 1026.7A40.6 22.8 -60 0 1 415.3 983.9ZM412.5 988.7A35 17.2 -60 0 1 399.2 1041.6A35 17.2 -60 0 1 373.4 1026.7A35 17.2 -60 0 1 412.5 988.7Z" style="fill:#fff;fill-rule:evenodd"/>
<path d="M657.2 1006.9C660 1007.8 669.1 1010.1 673.7 1012.3C678.3 1014.6 682 1017.6 684.7 1020.6C687.4 1023.6 685.6 1028.1 690.2 1030.2C694.8 1032.3 703.9 1030 712.1 1032.9C720.4 1035.9 732.3 1041.9 739.6 1048C746.9 1054.2 752 1061.3 756.1 1070C760.2 1078.7 763.2 1088.8 764.3 1100.2C765.4 1111.6 763.4 1130.8 762.9 1138.6C762.5 1146.4 760.4 1142.3 761.6 1146.9C762.7 1151.4 767 1161 769.8 1166.1C772.5 1171.1 776.7 1172.5 778 1177C779.4 1181.6 779.9 1187.6 778 1193.5C776.2 1199.5 771.6 1208.2 767 1212.7C762.5 1217.3 756.5 1218.7 750.6 1221C744.6 1223.3 737.8 1223.3 731.4 1226.5C725 1229.7 719 1233.3 712.1 1240.2C705.3 1247 699.3 1259.4 690.2 1267.6C681 1275.9 667.3 1284.3 657.2 1289.6C647.2 1294.9 637.6 1297.6 629.8 1299.2C622 1300.8 613.8 1299.2 610.6 1299.2M602.3 1303.3C600.1 1304.2 591.8 1306.1 588.6 1308.8C585.4 1311.6 586.3 1317 583.1 1319.8C579.9 1322.5 573.5 1324.8 569.4 1325.3C565.3 1325.7 560.3 1323 558.4 1322.5M558.4 1322.5C555.5 1320.2 544 1313.4 540.6 1308.8C537.2 1304.2 537.2 1300.1 537.8 1295.1C538.5 1290.1 542.9 1285.5 544.7 1278.6C546.5 1271.8 548.4 1264 548.8 1253.9C549.3 1243.8 546.8 1231 547.4 1218.2C548.1 1205.4 549.7 1190.8 552.9 1177C556.1 1163.3 560.7 1149.6 566.7 1135.9C572.6 1122.1 580.8 1107.1 588.6 1094.7C596.4 1082.3 606.5 1072.3 613.3 1061.8C620.2 1051.2 625.2 1039.3 629.8 1031.6C634.4 1023.8 636.2 1019.2 640.8 1015.1C645.4 1011 654.5 1008.2 657.2 1006.9M660 1026.1C657.5 1029.3 652.2 1035.2 644.9 1045.3C637.6 1055.4 625 1072.3 616.1 1086.5C607.2 1100.6 598.7 1115.3 591.4 1130.4C584 1145.5 576.7 1162.4 572.2 1177C567.6 1191.7 565.4 1206.8 563.9 1218.2C562.5 1229.7 563.1 1236.5 563.4 1245.7C563.6 1254.8 566.1 1264.9 565.3 1273.1C564.5 1281.4 559.8 1288.2 558.4 1295.1C557.1 1301.9 556.6 1309.5 557.1 1314.3C557.5 1319.1 560.5 1322.3 561.2 1323.9M649 1039.8C647.6 1044.4 644 1058.6 640.8 1067.2C637.6 1075.9 631.6 1087.8 629.8 1092M645.7 1046.7C644.2 1051 639.1 1065 636.7 1072.7C634.2 1080.5 632.1 1089.9 631.2 1093.3M677.8 1035.7C676.5 1034.8 672.6 1030 669.6 1030.2C666.6 1030.4 662.3 1033.9 660 1037.1C657.7 1040.3 655.6 1045.7 655.9 1049.4C656.1 1053.1 659.1 1057.6 661.4 1059C663.7 1060.4 668.2 1057.9 669.6 1057.6M684.7 1020.6L677.8 1017.8L675.1 1018.4M690.2 1030.2C691.1 1032.7 692.9 1041.6 695.7 1045.3C698.4 1048.9 703.2 1050.8 706.7 1052.2C710.1 1053.5 714.7 1053.3 716.3 1053.5M640.8 1086.5C644.4 1083.3 655.4 1072.1 662.7 1067.2C670.1 1062.4 677.4 1059.9 684.7 1057.6C692 1055.4 703 1054.2 706.7 1053.5M709.4 1075.5C707.1 1076.2 700.3 1075.5 695.7 1079.6C691.1 1083.7 685.4 1093.1 682 1100.2C678.5 1107.3 675.8 1115.7 675.1 1122.1C674.4 1128.6 677.4 1135.9 677.8 1138.6M714.9 1079.6L736.9 1089.2M719 1092.5C720.2 1092 723.6 1090.2 725.9 1089.8C728.2 1089.3 731.6 1089.8 732.7 1089.8M736.9 1089.2C738 1092 743.3 1099.3 743.7 1105.7C744.2 1112.1 742.6 1120.8 739.6 1127.6C736.6 1134.5 730.9 1142.3 725.9 1146.9C720.8 1151.4 714 1154.2 709.4 1155.1C704.8 1156 703 1154.6 698.4 1152.3C693.8 1150.1 684.7 1143.2 682 1141.4M692.9 1138.6L695.7 1149.6M727.4 1106.4A18.5 10.5 -62 0 1 722.4 1135.1A18.5 10.5 -62 0 1 706.4 1126.6A18.5 10.5 -62 0 1 727.4 1106.4ZM722.2 1132.7A14.5 7.5 -62 0 1 710.6 1132.6A14.5 7.5 -62 0 1 717.5 1113.8M722.2 1132A11 5.5 -62 0 1 719 1118M768.4 1183.9C767.3 1183.2 764.3 1179.3 761.6 1179.8C758.8 1180.3 754.5 1183.2 752 1186.7C749.4 1190.1 746.7 1196.7 746.5 1200.4C746.2 1204 748.5 1207.5 750.6 1208.6C752.6 1209.8 757.4 1207.5 758.8 1207.2M760.2 1138.6C759.7 1140.4 759 1144.1 757.4 1149.6C755.8 1155.1 754 1162.4 750.6 1171.6C747.1 1180.7 741.4 1194.9 736.9 1204.5C732.3 1214.1 727.2 1223.3 723.1 1229.2C719 1235.2 714 1238.4 712.1 1240.2M708 1242.9L723.1 1233.3M587.3 1289.6C586.3 1288.9 584.3 1285.2 581.8 1285.5C579.2 1285.7 574.7 1288 572.2 1291C569.6 1293.9 566.9 1299.7 566.7 1303.3C566.4 1307 569 1311.6 570.8 1312.9C572.6 1314.3 576.5 1311.8 577.6 1311.6M574.9 1248.4C574 1252.5 571.7 1264.9 569.4 1273.1C567.1 1281.4 562.5 1293.7 561.2 1297.8M580.4 1253.9C582.2 1257.1 586.8 1267.6 591.4 1273.1C595.9 1278.6 602.8 1284.1 607.8 1286.8C612.9 1289.6 619.3 1289.1 621.6 1289.6M601 1303.3L624.3 1292.3M579 1301.9L622.9 1326.7M496.7 1255L535 1276"/>
<path d="M399.3 1182.9L493 1235.8M386.3 1206.1L480 1259M386.3 1206.1A13.3 5.3 119.4 0 1 388.2 1191.9A13.3 5.3 119.4 0 1 399.3 1182.9M391.1 1208.8A13.3 5.3 119.4 0 1 393.1 1194.6A13.3 5.3 119.4 0 1 404.2 1185.7M395.3 1211.2A13.3 5.3 119.4 0 1 397.2 1197A13.3 5.3 119.4 0 1 408.3 1188M399.4 1213.5A13.3 5.3 119.4 0 1 401.3 1199.3A13.3 5.3 119.4 0 1 412.5 1190.3M403.5 1215.8A13.3 5.3 119.4 0 1 405.4 1201.6A13.3 5.3 119.4 0 1 416.6 1192.7M407.6 1218.1A13.3 5.3 119.4 0 1 409.5 1204A13.3 5.3 119.4 0 1 420.7 1195M411.7 1220.5A13.3 5.3 119.4 0 1 413.7 1206.3A13.3 5.3 119.4 0 1 424.8 1197.3M415.9 1222.8A13.3 5.3 119.4 0 1 417.8 1208.6A13.3 5.3 119.4 0 1 428.9 1199.6M420 1225.1A13.3 5.3 119.4 0 1 421.9 1210.9A13.3 5.3 119.4 0 1 433.1 1202M424.1 1227.5A13.3 5.3 119.4 0 1 426 1213.3A13.3 5.3 119.4 0 1 437.2 1204.3M428.2 1229.8A13.3 5.3 119.4 0 1 430.2 1215.6A13.3 5.3 119.4 0 1 441.3 1206.6"/>
<path d="M399.3 1182.9L493 1235.8M386.3 1206.1L480 1259M440.9 1236.9A13.3 5.3 119.4 0 1 442.8 1222.7A13.3 5.3 119.4 0 1 454 1213.8M445.2 1239.4A13.3 5.3 119.4 0 1 447.2 1225.2A13.3 5.3 119.4 0 1 458.3 1216.2M449.6 1241.8A13.3 5.3 119.4 0 1 451.5 1227.6A13.3 5.3 119.4 0 1 462.6 1218.7M453.9 1244.3A13.3 5.3 119.4 0 1 455.8 1230.1A13.3 5.3 119.4 0 1 467 1221.1M458.2 1246.7A13.3 5.3 119.4 0 1 460.2 1232.5A13.3 5.3 119.4 0 1 471.3 1223.6M462.6 1249.2A13.3 5.3 119.4 0 1 464.5 1235A13.3 5.3 119.4 0 1 475.6 1226M466.9 1251.6A13.3 5.3 119.4 0 1 468.8 1237.4A13.3 5.3 119.4 0 1 480 1228.4M471.2 1254.1A13.3 5.3 119.4 0 1 473.2 1239.9A13.3 5.3 119.4 0 1 484.3 1230.9M480 1259A13.3 5.3 119.4 0 1 485.8 1239.4A13.3 5.3 119.4 0 1 493.8 1243.9A13.3 5.3 119.4 0 1 480 1259Z"/>
<path d="M443.8 1208.2C444.6 1208.2 446.9 1207.8 448.3 1208.2C449.7 1208.7 451.3 1209.9 452.1 1211C453 1212.1 453.2 1214.2 453.4 1214.9M429.8 1233.1C430.2 1233.7 431.3 1236.1 432.4 1236.9C433.4 1237.7 434.9 1237.9 436.2 1237.8C437.5 1237.7 439.6 1236.7 440.3 1236.5M448.9 1209.4A15 6.5 -60.6 0 1 447.2 1225.7A15 6.5 -60.6 0 1 434.2 1235.6M483.3 1236.3L487.2 1235M474.4 1252.8L475.7 1256.7"/>
<path d="M634.8 1319.1C636.6 1318 639.5 1316.1 641.8 1315.9C644 1315.7 645.4 1316.6 648.3 1318C651.1 1319.5 656.3 1322.5 659 1324.5C661.7 1326.5 663.2 1327.6 664.4 1329.9C665.7 1332.3 666.4 1335.5 666.6 1338.5C666.8 1341.6 666.8 1345.2 665.5 1348.3C664.3 1351.3 661.7 1354.7 659 1356.9C656.3 1359 652.2 1360.3 649.3 1361.2C646.5 1362.1 643.9 1362.6 641.8 1362.3C639.6 1361.9 639.1 1360.7 636.4 1359C633.7 1357.4 627.9 1354.5 625.6 1352.6C623.3 1350.6 623 1349.2 622.4 1347.2C621.7 1345.2 621.3 1343.4 621.8 1340.7C622.4 1338 624.1 1334 625.6 1331C627.1 1327.9 629.5 1324.3 631 1322.4C632.5 1320.4 633 1320.2 634.8 1319.1ZM639.1 1350.4C639.1 1347.7 639.4 1343.2 640.7 1339.6C642 1336 644.8 1331.2 647.2 1328.8C649.5 1326.5 652.4 1325.8 654.7 1325.6C657.1 1325.4 659.4 1326.1 661.2 1327.8C663 1329.4 664.6 1333 665.5 1335.3C666.4 1337.6 666.8 1339.1 666.6 1341.8C666.4 1344.5 666.1 1348.8 664.4 1351.5C662.8 1354.2 659.6 1356.7 656.9 1358C654.2 1359.2 650.9 1359.4 648.3 1359C645.6 1358.7 642.2 1357.2 640.7 1355.8C639.2 1354.4 639.1 1353.1 639.1 1350.4ZM634.8 1319.1L647.2 1328.8M622.4 1341.8L636.4 1349.3M636.4 1346.1L637.5 1359"/>
<path d="M659.6 1332.4A12.3 10.2 -60 0 1 658 1352.8A12.3 10.2 -60 0 1 642.7 1344A12.3 10.2 -60 0 1 659.6 1332.4Z" style="stroke-dasharray:8 4"/>
<path d="M852.1 1148.2A43.3 29 -60 0 1 841.4 1217A43.3 29 -60 0 1 797.9 1191.9A43.3 29 -60 0 1 852.1 1148.2Z" class="w"/>
<path d="M839.2 1169.1A20 9.3 -65 0 1 833.8 1199.7A20 9.3 -65 0 1 819.2 1192.9A20 9.3 -65 0 1 839.2 1169.1ZM838.5 1170.4A20 9.6 -65 0 1 846.6 1180M803.7 1204.4C804.1 1206.4 804.4 1213.2 805.9 1216.3C807.3 1219.3 811.3 1221.7 812.4 1222.8M833.9 1152.6C835.4 1152.1 839.7 1150 842.6 1149.4C845.4 1148.8 849.7 1149.1 851.2 1149"/>
<path d="M887.1 1199.4L914.7 1214.5M872.2 1226.6L899.8 1241.7M872.2 1226.6A15.5 6.5 118.7 0 1 874 1209.9A15.5 6.5 118.7 0 1 887.1 1199.4M878.4 1230A15.5 6.5 118.7 0 1 880.1 1213.3A15.5 6.5 118.7 0 1 893.3 1202.8M884.1 1233.2A15.5 6.5 118.7 0 1 885.9 1216.4A15.5 6.5 118.7 0 1 899 1206M889.9 1236.3A15.5 6.5 118.7 0 1 891.6 1219.6A15.5 6.5 118.7 0 1 904.7 1209.1M895.6 1239.4A15.5 6.5 118.7 0 1 897.3 1222.7A15.5 6.5 118.7 0 1 910.5 1212.2"/>
<path d="M943.6 1205.1A39.4 26.5 -63.8 0 1 938.1 1268.3A39.4 26.5 -63.8 0 1 896.9 1248A39.4 26.5 -63.8 0 1 943.6 1205.1Z" class="w"/>
<path d="M918.1 1216.3C920.2 1215 926.7 1210.1 931 1208.7C935.3 1207.4 940 1206.8 943.9 1208.1C947.9 1209.3 952.9 1214.9 954.7 1216.3M909 1246.5C909.1 1249 908.3 1257.3 909.4 1261.6C910.6 1265.9 913 1269.7 915.9 1272.4C918.8 1275.1 924.9 1276.9 926.7 1277.8M900.8 1257.3C901.2 1259.1 901.9 1265.2 903 1268.1C904 1270.9 906.5 1273.4 907.3 1274.5M928.8 1220.6L941.8 1229.2L946.1 1224.9M909.4 1250.8L926.7 1259.4L926.7 1276.7"/>
<path d="M961.4 1225.8A29.4 17.2 -61.6 0 1 953.5 1271.7A29.4 17.2 -61.6 0 1 927.3 1257.5A29.4 17.2 -61.6 0 1 961.4 1225.8Z" class="w"/>
</g>
<g class="lab">
<text x="77" y="108.4">5</text>
<text x="131" y="120.2">4</text>
<text x="521.6" y="286.5">1</text>
<text x="402.5" y="331.2">6</text>
<text x="349.3" y="471.8">2</text>
<text x="201" y="492.3">3</text>
<text x="560" y="549.8">9</text>
<text x="721.2" y="602.4">11</text>
<text x="846" y="668.9">10</text>
<text x="83" y="741.7">12</text>
<text x="387.7" y="900.9">14</text>
<text x="507.3" y="903.8">13</text>
<text x="667.3" y="956">8</text>
<text x="948.3" y="950">16</text>
<text x="243.2" y="1126.8">7</text>
<text x="438" y="1314">15</text>
<text x="644.7" y="1423.8">17</text>
</g>
<path d="M67.9 1419L82.8 1394.7L85.2 1395.5L86 1398.2L115.4 1381.8L117.7 1383.3V1402.9L86 1421.8V1427.6Z" fill="#111"/>
<path d="M69.9 1418.6L83.6 1395.9M86.4 1400.2L115.4 1384.1" stroke="#fff" stroke-width="1" fill="none"/>
<text transform="matrix(0.62,-0.31,0,1,86.2,1418.2)" font-family="Liberation Sans, sans-serif" font-size="22" fill="#fff">FWD</text>
<text x="27" y="56" font-family="Liberation Sans, sans-serif" font-weight="bold" font-size="38" fill="#111" textLength="118" lengthAdjust="spacingAndGlyphs">FIG.13</text>
<text x="28.6" y="1538.8" font-family="Liberation Sans, sans-serif" font-size="19.7" fill="#111" textLength="215.5" lengthAdjust="spacingAndGlyphs">AN125HKL4_P06_013</text>
<text x="28" y="1570.3" font-family="Liberation Sans, sans-serif" font-size="19.7" fill="#111" textLength="101" lengthAdjust="spacingAndGlyphs">OIL PUMP</text>
</svg>
</body></html>
